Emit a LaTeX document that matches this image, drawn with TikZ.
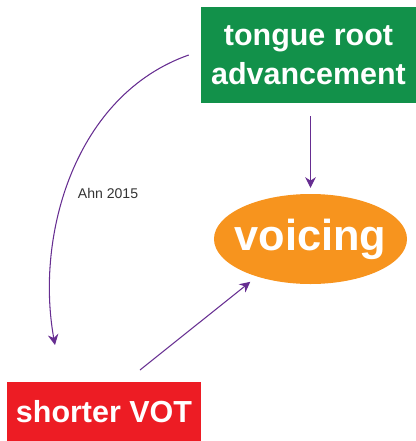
\documentclass[tikz,border=0pt]{standalone}
\usepackage{fontspec}
\setmainfont{Liberation Sans}
\usepackage{tikz}
\usetikzlibrary{arrows.meta, positioning, calc, shapes.geometric}
\usepackage{xcolor}
\definecolor{rootgreen}{HTML}{12914A}
\definecolor{voiceorange}{HTML}{F7941E}
\definecolor{votred}{HTML}{ED1C24}
\definecolor{linkpurple}{HTML}{662D91}

\begin{document}
\begin{tikzpicture}[x=0.03cm, y=-0.03cm, >={Stealth[length=9pt, width=9pt]},
    link/.style={->, line width=0.9pt, linkpurple},
    factor/.style={text=white, font=\bfseries, align=center, inner sep=0pt}]
  \useasboundingbox (0,0) rectangle (416,441);

  % Boxes
  \node[factor, fill=rootgreen, minimum width=6.45cm, minimum height=2.88cm,
    font=\fontsize{26}{33}\selectfont\bfseries] (root) at (308.5,55)
    {tongue root\\advancement};
  \node[factor, fill=votred, minimum width=5.82cm, minimum height=1.77cm,
    font=\fontsize{26}{31}\selectfont\bfseries] (vot) at (104,411.5)
    {shorter VOT};
  \node[factor, ellipse, fill=voiceorange, inner xsep=-7pt,
    minimum width=5.79cm, minimum height=2.7cm,
    font=\fontsize{37}{44}\selectfont\bfseries]
    (voicing) at (310.5,239) {voicing};

  % Free ends
  \coordinate (votstart) at (140,370);
  \coordinate (ahnend) at (55,345);

  % Links
  \draw[link, shorten <=0.39cm, shorten >=0.18cm]
    (voicing.north |- root.south) -- (voicing.north);
  \draw[link, shorten >=0.25cm] (votstart) -- (voicing.215);
  \draw[link] ([xshift=-0.36cm]root.west) .. controls (75,95) and (35,235)
    .. (ahnend);

  % Source label
  \node[font=\fontsize{12}{14}\selectfont, text=black!80] (ahn) at (108,193)
    {Ahn 2015};
\end{tikzpicture}
\end{document}
